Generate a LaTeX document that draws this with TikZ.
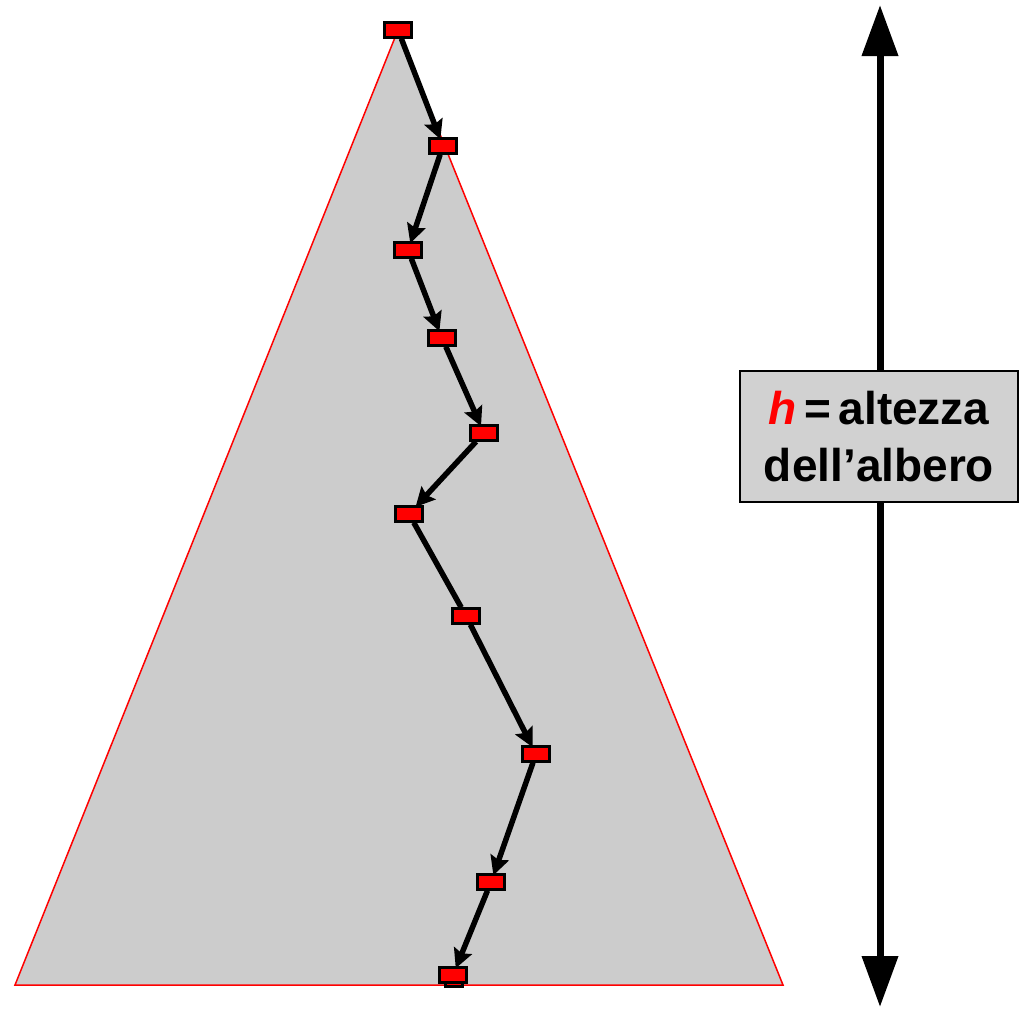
\documentclass[tikz,border=0pt]{standalone}
\usepackage{fontspec}
\setmainfont{Liberation Sans}
\usetikzlibrary{arrows.meta}

\begin{document}
\begin{tikzpicture}[x=1pt,y=-1pt,
    knot/.style={draw=black,fill=red,line width=2.2pt,minimum width=27pt,minimum height=15pt,inner sep=0pt},
    hop/.style={line width=5.5pt,-{Stealth[length=19pt,width=19pt,inset=3pt]},shorten >=-2pt},
    plainhop/.style={line width=5.5pt}]
            \useasboundingbox (0,0) rectangle (1028,1009);
            % the tree
            \fill[color=black!20] (398,30) -- (783,985) -- (15,985) -- cycle;
            \draw[color=red,line width=1.5pt] (398,30) -- (783,985) -- (15,985) -- cycle;
            % the path from the root down to a leaf
            \node[knot,minimum width=17pt,minimum height=5pt] (n11) at (454,984) {};
            \node[knot] (n1) at (398,30) {}; \node[knot] (n2) at (443,146) {}; \node[knot] (n3) at (408,250) {};
            \node[knot] (n4) at (442,338) {}; \node[knot] (n5) at (484,433) {}; \node[knot] (n6) at (409,514) {};
            \node[knot] (n7) at (466,616) {}; \node[knot] (n8) at (536,754) {}; \node[knot] (n9) at (491,882) {};
            \node[knot] (n10) at (453,975) {};
            \draw[hop] (n1) -- (n2); \draw[hop] (n2) -- (n3); \draw[hop] (n3) -- (n4); \draw[hop] (n4) -- (n5);
            \draw[hop] (n5) -- (n6); \draw[plainhop] (n6) -- (n7); \draw[hop] (n7) -- (n8); \draw[hop] (n8) -- (n9);
            \draw[hop] (n9) -- (n10);
            % the height
            \coordinate (top) at (880,5); \coordinate (bot) at (880,1007);
            \draw[line width=7pt,{Triangle[length=51pt,width=35pt]}-{Triangle[length=51pt,width=35pt]}] (top) -- (bot);
            \node[draw=black,fill=black!18,line width=1.5pt,minimum width=278pt,minimum height=131pt,align=center,
                font=\bfseries\fontsize{46}{57}\selectfont] (h) at (879,436.5) {\textcolor{red}{\itshape h}\,=\,altezza\\dell’albero};
        \end{tikzpicture}
\end{document}
